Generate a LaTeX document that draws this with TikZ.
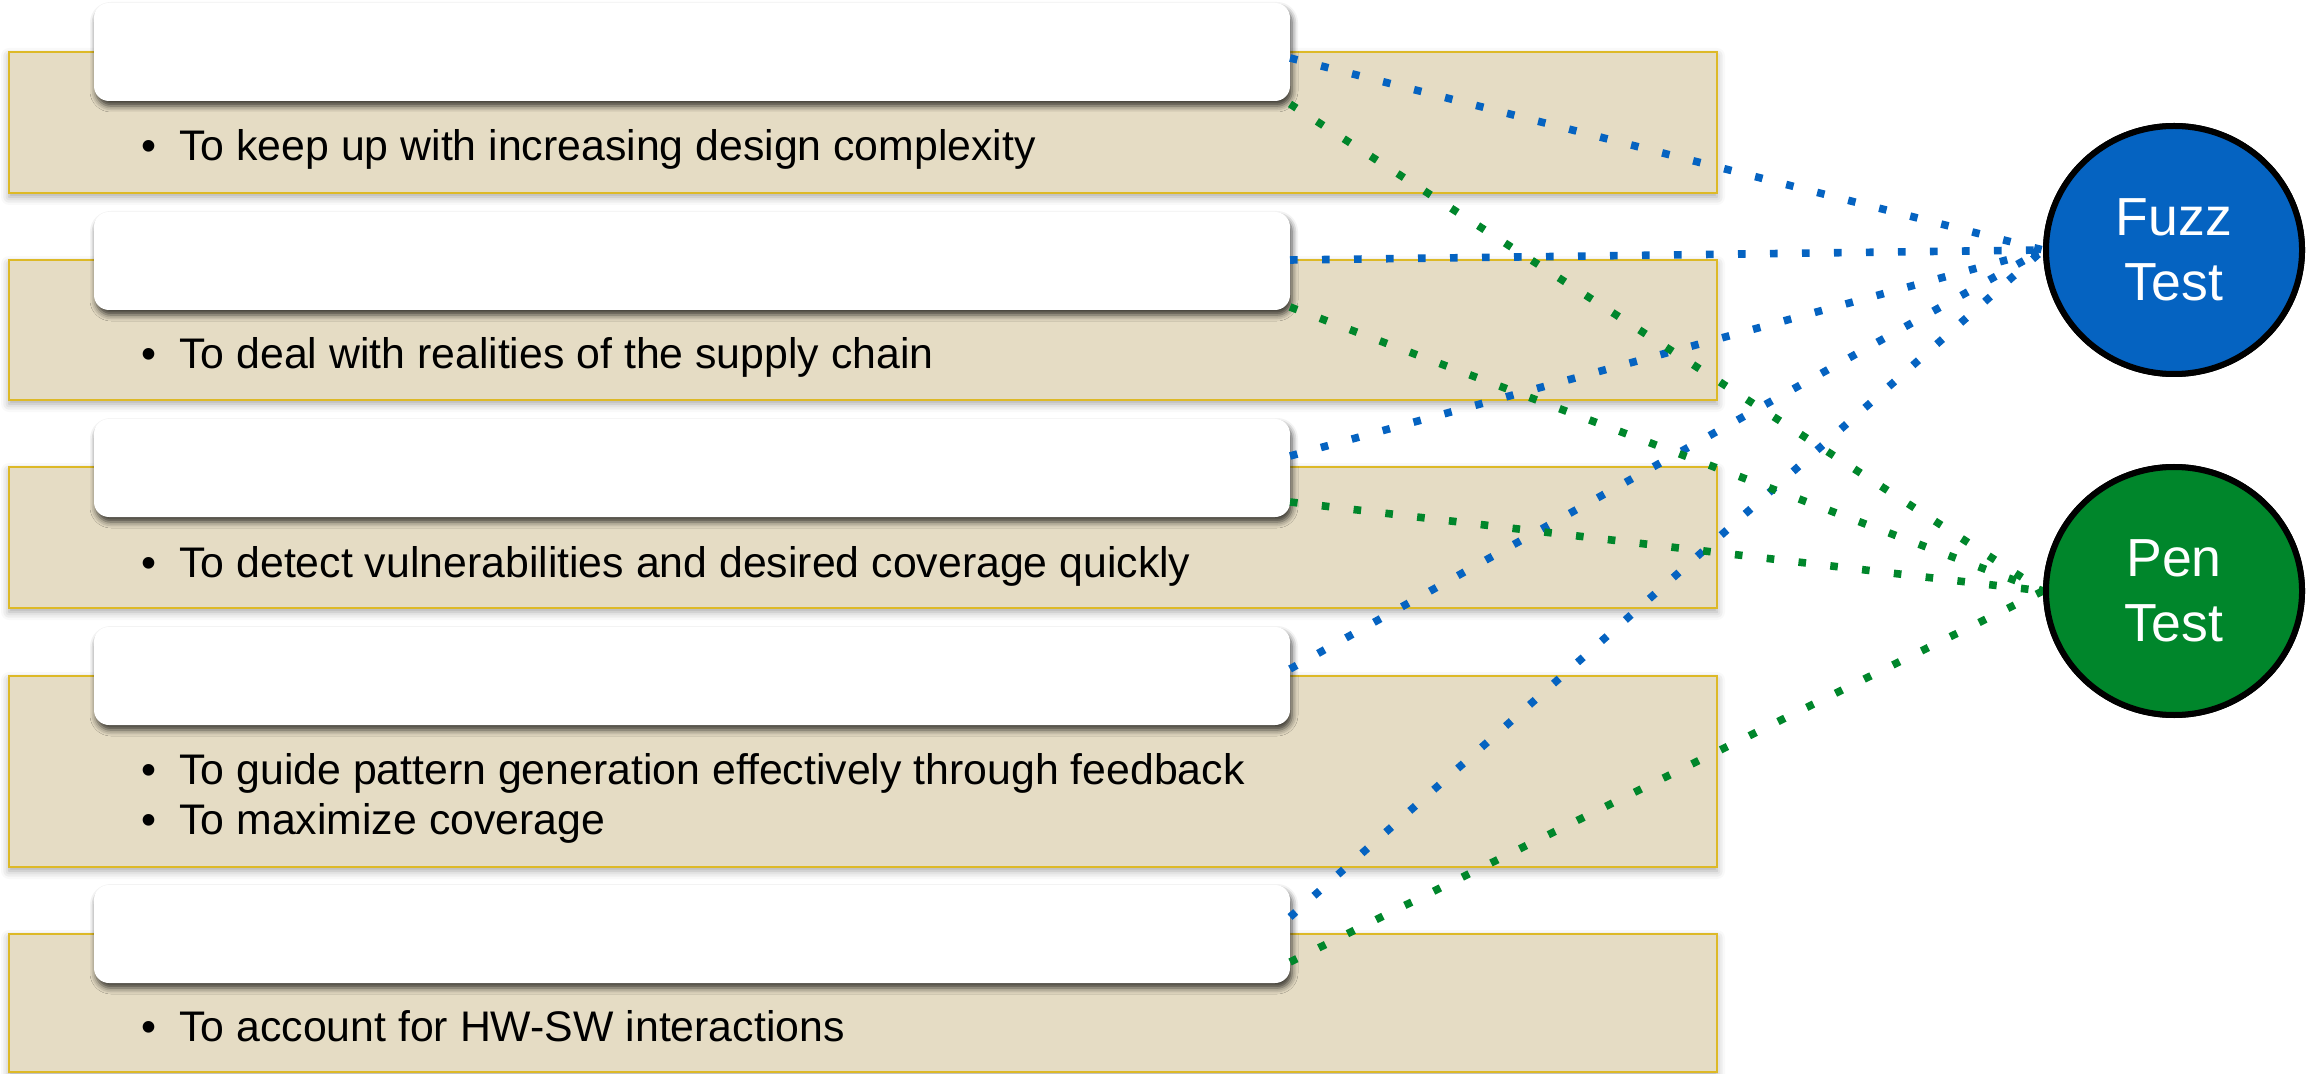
\documentclass[tikz,border=0pt]{standalone}
\usepackage{fontspec}
\setmainfont{Liberation Sans}
\usetikzlibrary{shapes.geometric,calc,shadows.blur}

\definecolor{tanfill}{HTML}{E5DCC4}
\definecolor{goldline}{HTML}{DDB927}
\definecolor{fuzzblue}{HTML}{0563C1}
\definecolor{pengreen}{HTML}{00862B}

\begin{document}
\begin{tikzpicture}[x=0.5pt,y=-0.5pt,
  tanbox/.style={draw=goldline, line width=1.1pt, fill=tanfill, anchor=north west,
    outer sep=0pt, inner sep=0pt, minimum width=854pt,
    blur shadow={shadow xshift=0pt, shadow yshift=-2pt, shadow blur radius=4pt, shadow opacity=35}},
  headbox/.style={fill=white, rounded corners=7.5pt, anchor=north west,
    outer sep=0pt, inner sep=0pt, minimum width=598pt, minimum height=49pt,
    blur shadow={shadow xshift=1pt, shadow yshift=-2.5pt, shadow blur radius=3pt, shadow opacity=75}},
  itemtxt/.style={anchor=base west, inner sep=0pt, font=\fontsize{21.4}{25}\selectfont},
  testnode/.style={ellipse, draw=black, line width=3pt, minimum width=128pt, minimum height=124pt,
    inner sep=0pt, align=center, text=white, font=\fontsize{26.8}{32.5}\selectfont},
  bluedots/.style={draw=fuzzblue, line width=3.8pt, line cap=butt, dash pattern=on 3.8pt off 12.2pt},
  greendots/.style={draw=pengreen, line width=3.8pt, line cap=butt, dash pattern=on 3.8pt off 12.2pt}
]
\useasboundingbox (0,0) rectangle (2311,1074);

% requirement panels
\node[tanbox, minimum height=70.5pt] (t1) at (9,52) {};
\node[tanbox, minimum height=70pt]   (t2) at (9,260) {};
\node[tanbox, minimum height=70.5pt] (t3) at (9,467) {};
\node[tanbox, minimum height=95.5pt] (t4) at (9,676) {};
\node[tanbox, minimum height=69pt]   (t5) at (9,934) {};

% white heading tabs
\node[headbox] (w1) at (94,3) {};
\node[headbox] (w2) at (94,212) {};
\node[headbox] (w3) at (94,419) {};
\node[headbox] (w4) at (94,627) {};
\node[headbox] (w5) at (94,885) {};

% bullet items
\node[itemtxt] (d1) at (141,161) {•};
\node[itemtxt] (i1) at (179,161) {To keep up with increasing design complexity};
\node[itemtxt] (d2) at (141,369) {•};
\node[itemtxt] (i2) at (179,369) {To deal with realities of the supply chain};
\node[itemtxt] (d3) at (141,577) {•};
\node[itemtxt] (i3) at (179,577) {To detect vulnerabilities and desired coverage quickly};
\node[itemtxt] (d4a) at (141,784) {•};
\node[itemtxt] (i4a) at (179,784) {To guide pattern generation effectively through feedback};
\node[itemtxt] (d4b) at (141,834) {•};
\node[itemtxt] (i4b) at (179,834) {To maximize coverage};
\node[itemtxt] (d5) at (141,1041) {•};
\node[itemtxt] (i5) at (179,1041) {To account for HW-SW interactions};

% test methods
\node[testnode, fill=fuzzblue] (fuzz) at (2174,250) {Fuzz\\Test};
\node[testnode, fill=pengreen] (pen) at (2174,591) {Pen\\Test};

% links to fuzz testing
\draw[bluedots] ($(w1.east)+(0,6)$)   -- (fuzz.west);
\draw[bluedots] ($(w2.east)+(0,-1)$)  -- (fuzz.west);
\draw[bluedots] ($(w3.east)+(0,-12)$) -- (fuzz.west);
\draw[bluedots] ($(w4.east)+(0,-7)$)  -- (fuzz.west);
\draw[bluedots] ($(w5.east)+(0,-17)$) -- (fuzz.west);

% links to pen testing
\draw[greendots] ($(w1.south east)+(0,3)$)   -- (pen.west);
\draw[greendots] ($(w2.south east)+(0,-3)$)  -- (pen.west);
\draw[greendots] ($(w3.south east)+(0,-15)$) -- (pen.west);
\draw[greendots] ($(w5.south east)+(0,-21)$) -- (pen.west);

% redraw circles on top of the line ends
\node[testnode, fill=fuzzblue] at (fuzz.center) {Fuzz\\Test};
\node[testnode, fill=pengreen] at (pen.center) {Pen\\Test};
\end{tikzpicture}
\end{document}
